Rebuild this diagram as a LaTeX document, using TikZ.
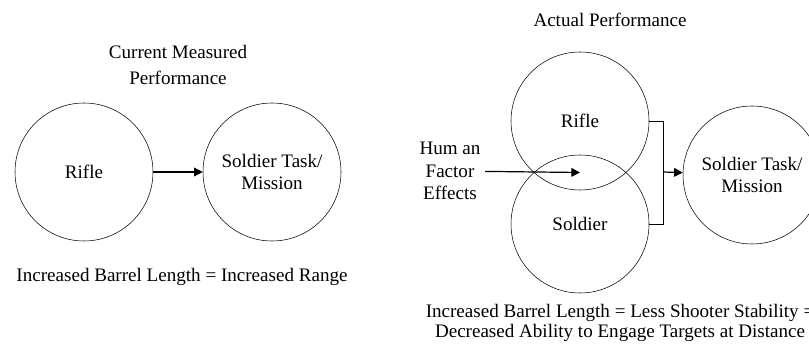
\documentclass[tikz,border=0pt]{standalone}
\usepackage{fontspec}
\setmainfont{Liberation Serif}
\usetikzlibrary{arrows.meta,calc}

\begin{document}
\begin{tikzpicture}[x=0.75pt,y=-0.75pt,-{Triangle[length=6.5pt,width=6.5pt]}]
\tikzset{
  ball/.style  = {shape=circle, draw, minimum size=103.5pt,
                  inner sep=0pt, align=center, font=\fontsize{14.3}{16.5}\selectfont},
  label/.style = {align=center, font=\fontsize{14.3}{19.5}\selectfont},
  note/.style  = {align=center, font=\fontsize{14.3}{15}\selectfont},
  link/.style  = {line width=0.9pt}
}
\useasboundingbox (0,0) rectangle (809,348);
% left: current measured performance
\node[label] (titleA) at (178,65) {Current Measured\\Performance};
\node[ball] (rifleA) at (84,172) {Rifle};
\node[ball] (taskA) at (272,172) {Soldier Task/\\Mission};
\node[note] (noteA) at (182,277) {Increased Barrel Length = Increased Range};
\draw[link] (rifleA) -- (taskA);
% right: actual performance
\node[label] (titleB) at (610,20) {Actual Performance};
\node[ball] (rifleB) at (580,121) {Rifle};
\node[ball] (soldierB) at (580,224) {Soldier};
\node[ball] (taskB) at (752,175) {Soldier Task/\\Mission};
\node[note, font=\fontsize{14.3}{17}\selectfont] (human) at (450,171) {Hum an\\Factor\\Effects};
\node[note] (noteB) at (620,323) {Increased Barrel Length = Less Shooter Stability =\\
  Decreased Ability to Engage Targets at Distance};
\coordinate (centre) at ($(rifleB)!0.5!(soldierB)$);
\coordinate (join) at (663,172);
\draw[link] (human) -- (centre);
\draw[-] (rifleB.east) -| (join) |- (soldierB.east);
\draw[link] (join) -- (taskB);
\end{tikzpicture}
\end{document}
